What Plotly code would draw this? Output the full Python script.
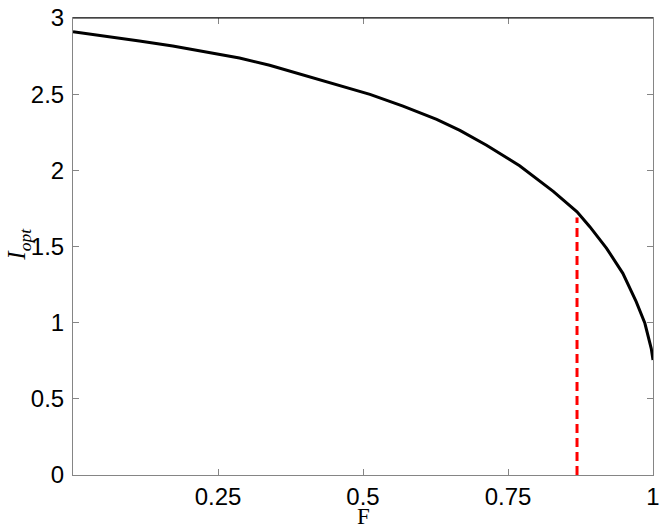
import plotly.graph_objects as go

# Curve data
F_vals = [0.000, 0.057, 0.1145, 0.172, 0.2295, 0.287, 0.339, 0.397, 0.454, 0.512,
          0.569, 0.627, 0.667, 0.713, 0.770, 0.828, 0.869, 0.891, 0.920, 0.948,
          0.971, 0.986, 0.997, 1.000]
I_vals = [2.910, 2.882, 2.849, 2.816, 2.779, 2.737, 2.690, 2.626, 2.565, 2.499,
          2.422, 2.335, 2.262, 2.165, 2.030, 1.862, 1.728, 1.630, 1.488, 1.324,
          1.138, 0.996, 0.830, 0.755]

# Vertical dashed marker
marker_F = [0.869, 0.869]
marker_I = [0.0, 1.69]

x_tickvals = [0.25, 0.5, 0.75, 1]
x_ticktext = ["0.25", "0.5", "0.75", "1"]
y_tickvals = [0, 0.5, 1, 1.5, 2, 2.5, 3]
y_ticktext = ["0", "0.5", "1", "1.5", "2", "2.5", "3"]

fig = go.Figure()
fig.add_trace(go.Scatter(x=F_vals, y=I_vals, mode="lines",
                         line=dict(color="black", width=3, shape="linear"),
                         showlegend=False, hoverinfo="skip"))
fig.add_trace(go.Scatter(x=marker_F, y=marker_I, mode="lines",
                         line=dict(color="#ff0000", width=3, dash="9px,5px"),
                         showlegend=False, hoverinfo="skip"))

axis_gray = "#858585"
serif = "Liberation Serif, Times New Roman, serif"
fig.update_layout(
    width=664, height=531,
    margin=dict(l=73, r=11, t=18, b=56, pad=0),
    paper_bgcolor="white", plot_bgcolor="white",
    font=dict(family="Liberation Sans, Arial, sans-serif", size=24, color="black"),
    xaxis=dict(range=[0, 1], tickvals=x_tickvals, ticktext=x_ticktext,
               showgrid=False, zeroline=False, showline=True, linecolor=axis_gray,
               linewidth=1, mirror="allticks", ticks="inside", ticklen=6,
               tickcolor=axis_gray, tickwidth=1, automargin=False),
    yaxis=dict(range=[0, 3], tickvals=y_tickvals, ticktext=y_ticktext,
               showgrid=False, zeroline=False, showline=True, linecolor=axis_gray,
               linewidth=1, mirror="allticks", ticks="inside", ticklen=6,
               tickcolor=axis_gray, tickwidth=1, ticklabelstandoff=3, automargin=False),
    shapes=[dict(type="line", xref="paper", yref="paper", x0=0, x1=1, y0=1, y1=1,
                 line=dict(color="black", width=1))],
    annotations=[
        dict(text="F", xref="paper", yref="paper", x=0.5, y=-0.09,
             xanchor="center", yanchor="middle", showarrow=False, borderpad=0,
             font=dict(family=serif, size=23)),
        dict(text="<i>I</i><sub><i>opt</i></sub>", xref="paper", yref="paper",
             x=-0.094, y=0.505, xanchor="center", yanchor="middle", textangle=-90,
             showarrow=False, font=dict(family=serif, size=25)),
    ],
)

fig.write_html("out.html", config={"displayModeBar": False},
               post_script="document.body.style.margin='0';document.body.style.overflow='hidden';")
